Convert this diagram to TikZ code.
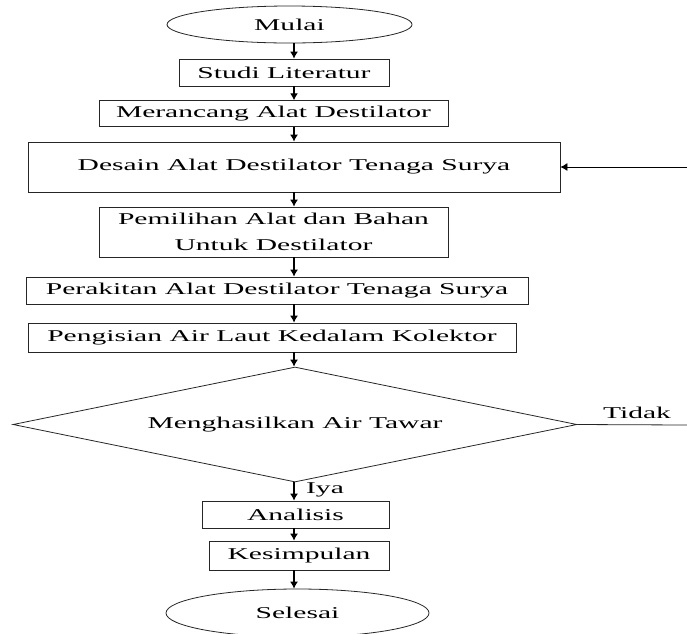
\documentclass[tikz,border=0pt]{standalone}
\usepackage{fontspec}
\setmainfont{Liberation Serif}[FakeStretch=1.79]
\usepackage{tikz}
\usetikzlibrary{arrows.meta, shapes.geometric}

\tikzset{
  kotak/.style={draw=black!85,line width=0.8pt,rectangle,inner sep=0pt,align=center},
  oval/.style={draw=black!85,line width=0.8pt,ellipse,inner sep=0pt},
  belah/.style={draw=black!85,line width=0.8pt,diamond,aspect=4.9,inner sep=0pt},
  panah/.style={-{Latex[length=7pt,width=8pt]},line width=1.2pt},
  garis/.style={line width=0.8pt,draw=black!85}
}

\begin{document}
\begin{tikzpicture}[x=1pt,y=-1pt,font=\fontsize{16.5}{26}\selectfont]
    \useasboundingbox (0,0) rectangle (687,633);

    % sumbu alir
    \coordinate (ax) at (294,0);
    \coordinate (kanan) at (687,167);
    \coordinate (kanan2) at (687,425);

    % terminal dan proses
    \node[oval,minimum width=245,minimum height=37] (mulai) at (289.5,24.5) {Mulai};
    \node[kotak,minimum width=210,minimum height=27] (studi) at (284,72.5) {Studi Literatur};
    \node[kotak,minimum width=349,minimum height=26] (rancang) at (273.5,113.7) {Merancang Alat Destilator};
    \node[kotak,minimum width=532,minimum height=50] (desain) at (294,167) {Desain Alat Destilator Tenaga Surya};
    \node[kotak,minimum width=349,minimum height=50] (pilih) at (273.5,232) {Pemilihan Alat dan Bahan\\Untuk Destilator};
    \node[kotak,minimum width=502,minimum height=27] (rakit) at (277,290.5) {Perakitan Alat Destilator Tenaga Surya};
    \node[kotak,minimum width=488,minimum height=29] (isi) at (272,337.5) {Pengisian Air Laut Kedalam Kolektor};
    \node[belah,minimum width=564,minimum height=115] (cek) at (295,424.5) {Menghasilkan Air Tawar};
    \node[kotak,minimum width=187,minimum height=27] (analisis) at (295.5,514.5) {Analisis};
    \node[kotak,minimum width=180,minimum height=29] (simpul) at (299,555.5) {Kesimpulan};
    \node[oval,minimum width=263,minimum height=48] (selesai) at (297.5,613) {Selesai};

    % label
    \node (iya) at (325,490) {Iya};
    \node (tidak) at (637,413) {Tidak};

    % panah
    \draw[panah] (mulai.south -| ax) -- (studi.north -| ax);
    \draw[panah] (studi.south -| ax) -- (rancang.north -| ax);
    \draw[panah] (rancang.south -| ax) -- (desain.north -| ax);
    \draw[panah] (desain.south -| ax) -- (pilih.north -| ax);
    \draw[panah] (pilih.south -| ax) -- (rakit.north -| ax);
    \draw[panah] (rakit.south -| ax) -- (isi.north -| ax);
    \draw[panah] (isi.south -| ax) -- (cek.north -| ax);
    \draw[panah] (cek.south -| ax) -- (analisis.north -| ax);
    \draw[panah] (analisis.south -| ax) -- (simpul.north -| ax);
    \draw[panah] (simpul.south -| ax) -- (selesai.north -| ax);

    % umpan balik
    \draw[garis] (cek.east) -- (kanan2);
    \draw[panah,line width=0.8pt] (kanan) -- (desain.east);
\end{tikzpicture}
\end{document}
